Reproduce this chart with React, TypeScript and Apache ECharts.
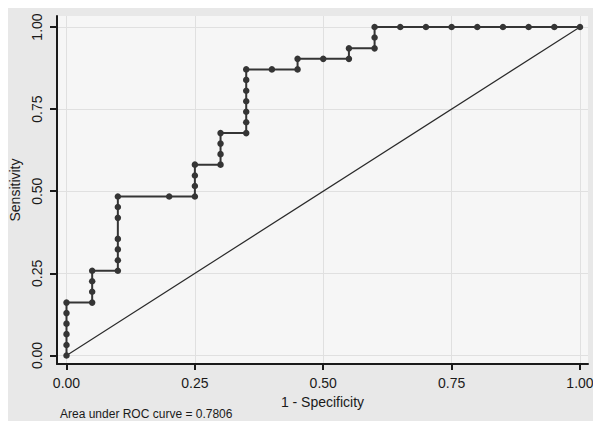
import React, { useEffect, useRef } from "react";
import * as echarts from "echarts";

// 1 - Specificity (false positive rate) of each ROC point
const fpr = [
  0, 0, 0, 0, 0, 0,
  0.05, 0.05, 0.05, 0.05,
  0.1, 0.1, 0.1, 0.1, 0.1, 0.1, 0.1,
  0.2,
  0.25, 0.25, 0.25, 0.25,
  0.3, 0.3, 0.3, 0.3,
  0.35, 0.35, 0.35, 0.35, 0.35, 0.35, 0.35,
  0.4,
  0.45, 0.45,
  0.5,
  0.55, 0.55,
  0.6, 0.6, 0.6,
  0.65, 0.7, 0.75, 0.8, 0.85, 0.9, 0.95, 1.0,
];
// Sensitivity of each ROC point
const tpr = [
  0, 0.032, 0.065, 0.097, 0.129, 0.161,
  0.161, 0.194, 0.226, 0.258,
  0.258, 0.29, 0.323, 0.355, 0.419, 0.452, 0.484,
  0.484,
  0.484, 0.516, 0.548, 0.581,
  0.581, 0.613, 0.645, 0.677,
  0.677, 0.71, 0.742, 0.774, 0.806, 0.839, 0.871,
  0.871,
  0.871, 0.903,
  0.903,
  0.903, 0.935,
  0.935, 0.968, 1,
  1, 1, 1, 1, 1, 1, 1, 1,
];
const refX = [0, 1];
const refY = [0, 1];
const tickValues = [0, 0.25, 0.5, 0.75, 1];
const tickLabels = ["0.00", "0.25", "0.50", "0.75", "1.00"];
const xTitle = "1 - Specificity";
const yTitle = "Sensitivity";
const footnote = "Area under ROC curve = 0.7806";

const FONT = "Arial, 'Liberation Sans', Helvetica, sans-serif";

export default function App() {
  const ref = useRef<HTMLDivElement>(null);
  useEffect(() => {
    if (!ref.current) return;
    const chart = echarts.init(ref.current, undefined, { renderer: "svg" });
    const fmt = (v: number) => {
      const i = tickValues.findIndex((t) => Math.abs(t - v) < 1e-6);
      return i >= 0 ? tickLabels[i] : "";
    };
    const axisCommon = {
      type: "value" as const,
      nameLocation: "middle" as const,
      nameTextStyle: { fontFamily: FONT, fontSize: 14, color: "#1a1a1a" },
      axisLine: { show: true, onZero: false, lineStyle: { color: "#1a1a1a", width: 2 } },
      splitLine: { show: true, lineStyle: { color: "#e0e0e0", width: 1 } },
    };
    chart.setOption({
      animation: false,
      backgroundColor: "#e8e8e8",
      grid: {
        left: 49,
        top: 8,
        right: 5,
        bottom: 57,
        show: true,
        backgroundColor: "#f6f6f6",
        borderWidth: 0,
        containLabel: false,
        outerBoundsMode: "none",
      },
      xAxis: {
        ...axisCommon,
        min: -0.0185,
        max: 1.0156,
        name: xTitle,
        nameGap: 25,
        axisTick: { show: true, length: 6, customValues: tickValues, lineStyle: { color: "#1a1a1a", width: 2 } },
        axisLabel: {
          customValues: tickValues,
          formatter: fmt,
          fontFamily: FONT,
          fontSize: 14,
          color: "#1a1a1a",
          margin: 12,
        },
      },
      yAxis: {
        ...axisCommon,
        min: -0.0259,
        max: 1.0335,
        name: yTitle,
        nameGap: 27,
        axisTick: { show: true, length: 7, customValues: tickValues, lineStyle: { color: "#1a1a1a", width: 2 } },
        axisLabel: {
          customValues: tickValues,
          formatter: fmt,
          rotate: 90,
          fontFamily: FONT,
          fontSize: 14,
          color: "#1a1a1a",
          margin: 13,
        },
      },
      graphic: [
        {
          type: "text",
          left: 52,
          top: 400,
          style: { text: footnote, fontFamily: FONT, fontSize: 12, fill: "#1a1a1a" },
        },
      ],
      series: [
        {
          type: "line",
          data: refX.map((x, i) => [x, refY[i]]),
          showSymbol: false,
          symbol: "none",
          lineStyle: { color: "#2a2a2a", width: 1.2 },
          silent: true,
          z: 2,
        },
        {
          type: "line",
          data: fpr.map((x, i) => [x, tpr[i]]),
          symbol: "circle",
          symbolSize: 6.5,
          showAllSymbol: true,
          itemStyle: { color: "#353535" },
          lineStyle: { color: "#353535", width: 2 },
          silent: true,
          z: 3,
        },
      ],
    });
    return () => chart.dispose();
  }, []);
  return (
    <div
      ref={ref}
      style={{ position: "absolute", left: 8, top: 8, width: 585, height: 413 }}
    />
  );
}
